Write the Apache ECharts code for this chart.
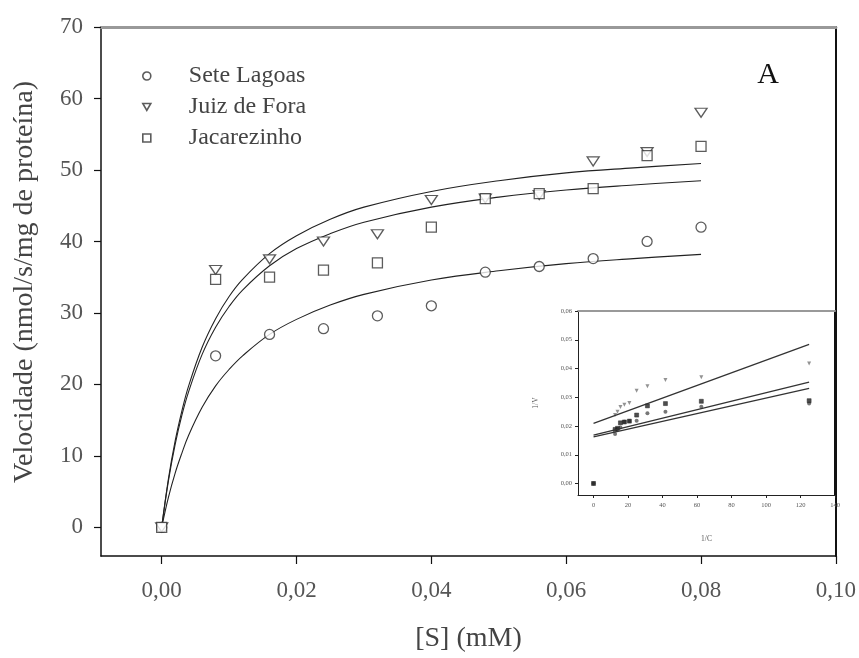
<!DOCTYPE html>
<html><head><meta charset="utf-8">
<script src="https://cdn.jsdelivr.net/npm/echarts@6/dist/echarts.min.js"></script>
<style>html,body{margin:0;padding:0;background:#fff}#c{width:859px;height:658px}</style>
</head><body><div id="c"></div>
<script>
// Main plot data
const sValues = [0, 0.008, 0.016, 0.024, 0.032, 0.04, 0.048, 0.056, 0.064, 0.072, 0.08];
const seteLagoas = [0, 24, 27, 27.8, 29.6, 31, 35.7, 36.5, 37.6, 40, 42];
const juizDeFora = [0, 36, 37.5, 40, 41, 45.8, 46, 46.5, 51.2, 52.5, 58];
const jacarezinho = [0, 34.7, 35, 36, 37, 42, 46, 46.7, 47.4, 52, 53.3];
// Fitted curves
const fitX = [0, 0.001, 0.002, 0.003, 0.004, 0.006, 0.008, 0.01, 0.012, 0.016, 0.02, 0.025, 0.03, 0.04, 0.05, 0.06, 0.07, 0.08];
const fitTop = [0, 6.8, 12.1, 16.3, 19.8, 25.2, 29.2, 32.3, 34.7, 38.3, 40.8, 43.1, 44.8, 47.0, 48.5, 49.6, 50.3, 50.9];
const fitMid = [0, 6.5, 11.6, 15.7, 19.0, 24.2, 28.0, 30.9, 33.2, 36.6, 39.0, 41.1, 42.7, 44.8, 46.2, 47.2, 47.9, 48.5];
const fitBot = [0, 4.2, 7.6, 10.4, 12.9, 16.8, 19.8, 22.1, 24.0, 27.0, 29.1, 31.1, 32.6, 34.6, 35.9, 36.9, 37.6, 38.2];
const xTicks = [0, 0.02, 0.04, 0.06, 0.08, 0.10];
const yTicks = [0, 10, 20, 30, 40, 50, 60, 70];
// Inset (Lineweaver-Burk) data
const invS = [0, 12.5, 13.9, 15.6, 17.9, 20.8, 25, 31.25, 41.7, 62.5, 125];
const invSL = [0, 0.0238, 0.025, 0.0266, 0.0274, 0.028, 0.0323, 0.0338, 0.036, 0.037, 0.0417];
const invJF = [0, 0.0172, 0.019, 0.0195, 0.0215, 0.0217, 0.0218, 0.0244, 0.025, 0.0267, 0.0278];
const invJac = [0, 0.0188, 0.0192, 0.0211, 0.0214, 0.0217, 0.0238, 0.027, 0.0278, 0.0286, 0.0288];
const lineX = [0, 125];
const lineSL = [0.0209, 0.0484];
const lineJF = [0.0162, 0.0331];
const lineJac = [0.0168, 0.0353];
const insetXTicks = [0, 20, 40, 60, 80, 100, 120, 140];
const insetYTicks = [0, 0.01, 0.02, 0.03, 0.04, 0.05, 0.06];

const pair = (xs, ys) => xs.map((x, i) => [x, ys[i]]);
const serif = '"Liberation Serif", "DejaVu Serif", serif';
const comma = (v, d) => v.toFixed(d).replace('.', ',');
const downTri = 'path://M0,0L10,0L5,8.7Z';

const chart = echarts.init(document.getElementById('c'));
const mk = {color: '#fff', borderColor: '#333', borderWidth: 1.3};
const legMk = {color: '#fff', borderColor: '#333', borderWidth: 1.6};
const ink = {color: '#222', borderColor: '#222', borderWidth: 0.6};

chart.setOption({
  animation: false,
  backgroundColor: '#fff',
  grid: [
    {left: 101, right: 21, top: 27, bottom: 102, show: false},
    {left: 578, right: 24, top: 311, bottom: 163, show: true, backgroundColor: '#fff', borderWidth: 0}
  ],
  xAxis: [
    {gridIndex: 0, type: 'value', min: -0.009, max: 0.1, splitLine: {show: false},
     axisLine: {onZero: false, lineStyle: {color: '#111', width: 1.5}},
     axisTick: {length: 8, customValues: xTicks, lineStyle: {color: '#111', width: 1.2}},
     axisLabel: {customValues: xTicks, formatter: v => comma(v, 2), margin: 23, fontFamily: serif, fontSize: 23, color: '#555'},
     name: '[S] (mM)', nameLocation: 'middle', nameGap: 69, nameTextStyle: {fontFamily: serif, fontSize: 28, color: '#444'}},
    {gridIndex: 0, type: 'value', position: 'top', min: -0.009, max: 0.1, splitLine: {show: false},
     axisLine: {onZero: false, lineStyle: {color: '#999', width: 3}}, axisTick: {show: false}, axisLabel: {show: false}},
    {gridIndex: 1, type: 'value', min: -9, max: 140, splitLine: {show: false},
     axisLine: {onZero: false, lineStyle: {color: '#222', width: 1}},
     axisTick: {length: 3, customValues: insetXTicks, lineStyle: {color: '#222'}},
     axisLabel: {customValues: insetXTicks, margin: 7, fontFamily: serif, fontSize: 6.5, color: '#555'},
     name: '1/C', nameLocation: 'middle', nameGap: 40, nameTextStyle: {fontFamily: serif, fontSize: 7.5, color: '#555'}},
    {gridIndex: 1, type: 'value', position: 'top', min: -9, max: 140, splitLine: {show: false},
     axisLine: {onZero: false, lineStyle: {color: '#999', width: 2}}, axisTick: {show: false}, axisLabel: {show: false}}
  ],
  yAxis: [
    {gridIndex: 0, type: 'value', min: -4, max: 70, splitLine: {show: false},
     axisLine: {onZero: false, lineStyle: {color: '#111', width: 1.5}},
     axisTick: {length: 7, customValues: yTicks, lineStyle: {color: '#111', width: 1.2}},
     axisLabel: {customValues: yTicks, margin: 18, fontFamily: serif, fontSize: 23, color: '#555'}},
    {gridIndex: 0, type: 'value', position: 'right', min: -4, max: 70, splitLine: {show: false},
     axisLine: {onZero: false, lineStyle: {color: '#111', width: 2}}, axisTick: {show: false}, axisLabel: {show: false}},
    {gridIndex: 1, type: 'value', min: -0.004, max: 0.06, splitLine: {show: false},
     axisLine: {onZero: false, lineStyle: {color: '#222', width: 1}},
     axisTick: {length: 3, customValues: insetYTicks, lineStyle: {color: '#222'}},
     axisLabel: {customValues: insetYTicks, formatter: v => comma(v, 2), margin: 6, fontFamily: serif, fontSize: 6.5, color: '#555'},
     name: '1/V', nameLocation: 'middle', nameGap: 38, nameTextStyle: {fontFamily: serif, fontSize: 7.5, color: '#555'}},
    {gridIndex: 1, type: 'value', position: 'right', min: -0.004, max: 0.06, splitLine: {show: false},
     axisLine: {onZero: false, lineStyle: {color: '#111', width: 2}}, axisTick: {show: false}, axisLabel: {show: false}}
  ],
  legend: {
    orient: 'vertical', left: 137, top: 59, itemGap: 7, itemWidth: 8, itemHeight: 8,
    data: [
      {name: 'Sete Lagoas', icon: 'circle', itemStyle: legMk},
      {name: 'Juiz de Fora', icon: downTri, itemStyle: legMk},
      {name: 'Jacarezinho', icon: 'rect', itemStyle: legMk}
    ],
    textStyle: {fontFamily: serif, fontSize: 24, color: '#444', padding: [0, 0, 0, 33], lineHeight: 24}
  },
  graphic: [
    {type: 'text', x: 25, y: 282, rotation: Math.PI / 2,
     style: {text: 'Velocidade (nmol/s/mg de proteína)', textAlign: 'center', textVerticalAlign: 'middle', font: '28px ' + serif, fill: '#444'}},
    {type: 'text', x: 768, y: 75,
     style: {text: 'A', textAlign: 'center', textVerticalAlign: 'middle', font: '30px ' + serif, fill: '#111'}}
  ],
  series: [
    {type: 'line', xAxisIndex: 0, yAxisIndex: 0, data: pair(fitX, fitTop), smooth: 0.4, showSymbol: false, lineStyle: {color: '#222', width: 1.1}, z: 2},
    {type: 'line', xAxisIndex: 0, yAxisIndex: 0, data: pair(fitX, fitMid), smooth: 0.4, showSymbol: false, lineStyle: {color: '#222', width: 1.1}, z: 2},
    {type: 'line', xAxisIndex: 0, yAxisIndex: 0, data: pair(fitX, fitBot), smooth: 0.4, showSymbol: false, lineStyle: {color: '#222', width: 1.1}, z: 2},
    {name: 'Sete Lagoas', type: 'scatter', xAxisIndex: 0, yAxisIndex: 0, data: pair(sValues, seteLagoas), symbol: 'circle', symbolSize: 10, itemStyle: mk, z: 3},
    {name: 'Juiz de Fora', type: 'scatter', xAxisIndex: 0, yAxisIndex: 0, data: pair(sValues, juizDeFora), symbol: 'triangle', symbolRotate: 180, symbolSize: [12, 9], itemStyle: mk, z: 3},
    {name: 'Jacarezinho', type: 'scatter', xAxisIndex: 0, yAxisIndex: 0, data: pair(sValues, jacarezinho), symbol: 'rect', symbolSize: 10, itemStyle: mk, z: 3},
    {type: 'line', xAxisIndex: 2, yAxisIndex: 2, data: pair(lineX, lineSL), showSymbol: false, lineStyle: {color: '#333', width: 1.3}},
    {type: 'line', xAxisIndex: 2, yAxisIndex: 2, data: pair(lineX, lineJF), showSymbol: false, lineStyle: {color: '#333', width: 1.3}},
    {type: 'line', xAxisIndex: 2, yAxisIndex: 2, data: pair(lineX, lineJac), showSymbol: false, lineStyle: {color: '#333', width: 1.3}},
    {type: 'scatter', xAxisIndex: 2, yAxisIndex: 2, data: pair(invS, invSL), symbol: 'triangle', symbolRotate: 180, symbolSize: 4, itemStyle: {color: '#777'}},
    {type: 'scatter', xAxisIndex: 2, yAxisIndex: 2, data: pair(invS, invJF), symbol: 'circle', symbolSize: 4, itemStyle: {color: '#555'}},
    {type: 'scatter', xAxisIndex: 2, yAxisIndex: 2, data: pair(invS, invJac), symbol: 'rect', symbolSize: 4, itemStyle: ink}
  ]
});
</script></body></html>
